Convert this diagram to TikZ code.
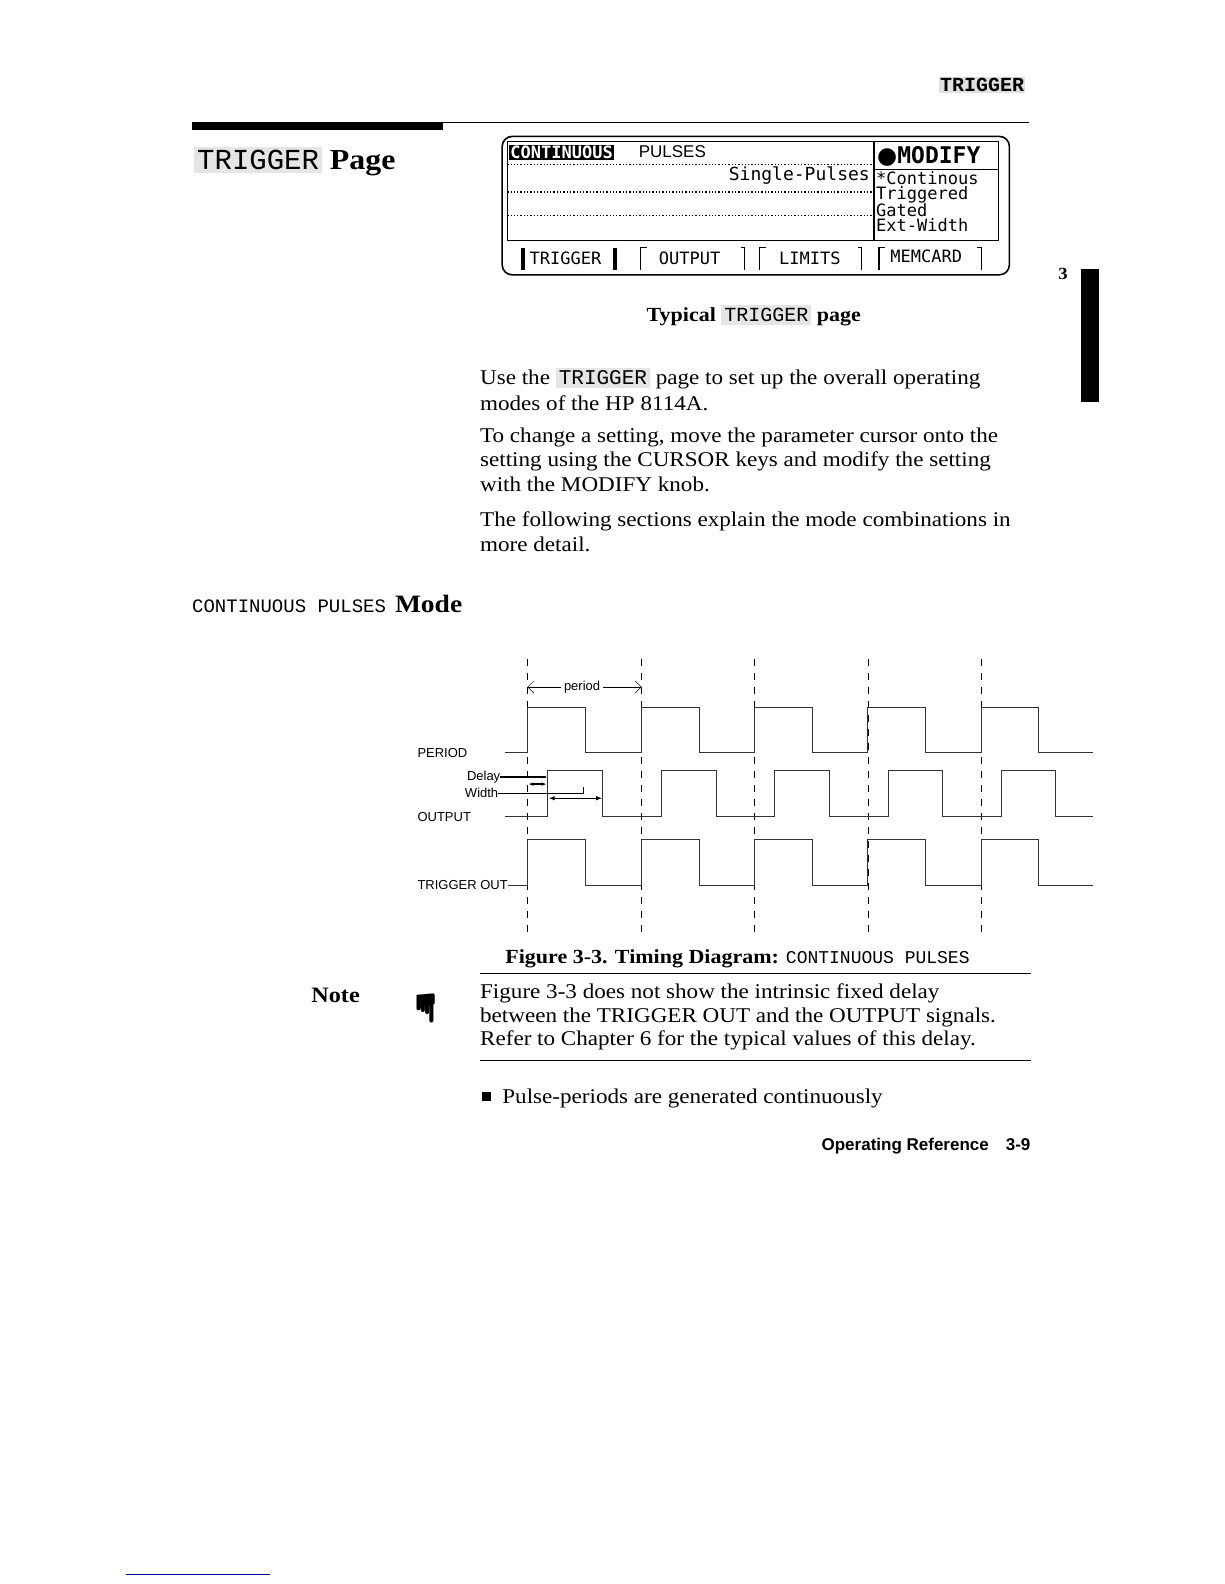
\documentclass[tikz,border=0pt]{standalone}
\usepackage{fontspec}
\setmainfont{Liberation Serif}[FakeStretch=1.1]
\newfontfamily\monof{Liberation Mono}
\newfontfamily\scrf{DejaVu Sans Mono}
\newfontfamily\sansf{Liberation Sans}
\newfontfamily\djs{DejaVu Sans}
\usetikzlibrary{arrows.meta}
\tikzset{
 body/.style={anchor=base west,font=\fontsize{21}{24}\selectfont,inner sep=0pt},
 lbl/.style={anchor=west,font=\sansf\fontsize{13}{15}\selectfont,inner sep=0pt},
 sig/.style={line width=1pt,black!80},
 grid/.style={dashed,dash pattern=on 7pt off 7pt,line width=0.7pt},
 scr/.style={font=\scrf\fontsize{17}{17}\selectfont,inner sep=0pt},
 dot/.style={dotted,line width=1.3pt},
}
\begin{document}
\begin{tikzpicture}[x=1.0104pt,y=-1.0104pt]
% header
\node[fill=black!12,inner sep=1pt,font=\monof\bfseries\fontsize{20}{20}\selectfont] (hd) at (972,84) {TRIGGER};
\draw[line width=0.8pt] (190,121) -- (1018,121);
\fill (190,121) rectangle (438,129);
\node[anchor=base west,inner sep=0pt,font=\fontsize{29}{29}\selectfont] (title) at (192,168) {\colorbox{black!10}{\monof TRIGGER} \textbf{Page}};
% screen
\draw[line width=1.6pt,rounded corners=10pt] (497,135) rectangle (999,272);
\draw[line width=1.4pt] (502,140) rectangle (988,238);
\draw[line width=1.4pt] (865,140) -- (865,238);
\draw[line width=1.4pt] (865,168) -- (988,168);
\draw[dot] (502,163) -- (865,163);
\draw[dot] (502,190) -- (865,190);
\draw[dot] (502,213) -- (865,213);
\node[fill=black,text=white,inner sep=1pt,font=\scrf\bfseries\fontsize{17}{17}\selectfont,anchor=west] (cont) at (504,151) {CONTINUOUS};
\node[anchor=west,font=\sansf\fontsize{17}{17}\selectfont,inner sep=0pt] (pul) at (632,150) {PULSES};
\node[scr,anchor=east,font=\scrf\fontsize{18}{18}\selectfont] (sp) at (861,174) {Single-Pulses};
\node[scr,font=\scrf\bfseries\fontsize{23}{23}\selectfont,anchor=west] (mod) at (868,155) {\djs\char"25CF\scrf MODIFY};
\node[scr,anchor=north west,align=left,font=\scrf\fontsize{17}{14.5}\selectfont] (opts) at (867,170) {*Continous\\ Triggered\\ Gated\\ Ext-Width};
\node[scr,anchor=west] (t1) at (524,256) {TRIGGER};
\draw[line width=4pt] (518,245)--(518,267); \draw[line width=4pt] (609,245)--(609,267);
\node[scr,anchor=west] (t2) at (652,256) {OUTPUT};
\draw[line width=1.2pt] (634,267)--(634,245)--(640,245) (733,245)--(737,245)--(737,267);
\node[scr,anchor=west] (t3) at (771,256) {LIMITS};
\draw[line width=1.2pt] (752,267)--(752,245)--(758,245) (849,245)--(853,245)--(853,267);
\node[scr,anchor=west] (t4) at (881,254) {MEMCARD};
\draw[line width=1.2pt] (870,267)--(870,245)--(876,245) (967,245)--(971,245)--(971,267);
\node[anchor=base,inner sep=0pt,font=\bfseries\fontsize{20}{20}\selectfont] (cap) at (746,318) {Typical \colorbox{black!10}{\monof\mdseries TRIGGER} page};
% side tab
\node[font=\bfseries\fontsize{17}{17}\selectfont] (three) at (1052,271) {3};
\fill (1070,266) rectangle (1088,398);
% paragraphs
\node[body] (p1) at (475,381) {Use the \colorbox{black!10}{\monof TRIGGER} page to set up the overall operating};
\node[body] (p1b) at (475,406) {modes of the HP 8114A.};
\node[body] (p2) at (475,438) {To change a setting, move the parameter cursor onto the};
\node[body] (p2b) at (475,462) {setting using the CURSOR keys and modify the setting};
\node[body] (p2c) at (475,486) {with the MODIFY knob.};
\node[body] (p3) at (475,521) {The following sections explain the mode combinations in};
\node[body] (p3b) at (475,546) {more detail.};
\node[anchor=base west,inner sep=0pt] (sec) at (190,606) {{\monof\fontsize{19}{19}\selectfont CONTINUOUS PULSES}\hspace{9pt}{\bfseries\fontsize{25}{25}\selectfont Mode}};
% timing grid
\foreach \x in {522,635,747,859,971} \draw[grid] (\x,652) -- (\x,925);
\node[lbl] (per) at (558,680) {period};
\coordinate (pa) at (522,680); \coordinate (pb) at (635,680);
\draw[-{Straight Barb[length=6pt]},line width=0.5pt] (per.west) ++(-3,0) -- (pa);
\draw[-{Straight Barb[length=6pt]},line width=0.5pt] (per.east) ++(3,0) -- (pb);
\node[lbl] (lper) at (413,745) {PERIOD};
\node[lbl] (lout) at (413,809) {OUTPUT};
\node[lbl] (ltrg) at (413,876) {TRIGGER OUT};
\node[lbl] (ldel) at (462,769) {Delay};
\node[lbl] (lwid) at (460,785) {Width};
\draw[sig] (500,745) \foreach \s in {522,635,747,859,971} {-- (\s,745) -- (\s,700) -- (\s+57,700) -- (\s+57,745)} -- (1082,745);
\draw[sig] (500,808) \foreach \s in {542,655,767,879,991} {-- (\s,808) -- (\s,763) -- (\s+54,763) -- (\s+54,808)} -- (1082,808);
\draw[sig] (ltrg.east) -- (522,876) \foreach \s in {522,635,747,859,971} {-- (\s,876) -- (\s,831) -- (\s+57,831) -- (\s+57,876)} -- (1082,876);
\draw[line width=1.4pt] (ldel.east) -- (540,769);
\draw[{Latex[length=5pt]}-{Latex[length=5pt]},line width=1.4pt] (523,776) -- (541,776);
\draw[line width=0.8pt] (lwid.east) -- (577,785) -- (577,779);
\draw[{Latex[length=6pt]}-{Latex[length=6pt]},line width=1.4pt] (543,790) -- (596,790);
% figure caption
\node[anchor=base west,inner sep=0pt] (fig) at (500,954) {{\bfseries\fontsize{20}{20}\selectfont Figure 3-3. Timing Diagram:}\hspace{7pt}{\monof\fontsize{18}{18}\selectfont CONTINUOUS PULSES}};
\draw[line width=0.8pt] (475,963) -- (1020,963);
\node[anchor=base west,inner sep=0pt,font=\bfseries\fontsize{22}{22}\selectfont] (note) at (308,992) {Note};
\node[font=\fontsize{40}{40}\selectfont,rotate=-90] (hand) at (420,998) {\djs\char"261B};
\node[body] (n1) at (475,988) {Figure 3-3 does not show the intrinsic fixed delay};
\node[body] (n2) at (475,1012) {between the TRIGGER OUT and the OUTPUT signals.};
\node[body] (n3) at (475,1035) {Refer to Chapter 6 for the typical values of this delay.};
\draw[line width=0.8pt] (475,1049) -- (1020,1049);
\fill (477,1081) rectangle (486,1090);
\node[body] (b1) at (497,1092) {Pulse-periods are generated continuously};
\node[anchor=base east,inner sep=0pt,font=\sansf\bfseries\fontsize{17}{17}\selectfont] (foot) at (1020,1139) {Operating Reference\quad 3-9};
\draw[blue!60!black,line width=0.8pt] (125,1558) -- (267,1558);
\pgfresetboundingbox
\path[use as bounding box] (0pt,0pt) rectangle (1224pt,-1584pt);
\end{tikzpicture}
\end{document}
